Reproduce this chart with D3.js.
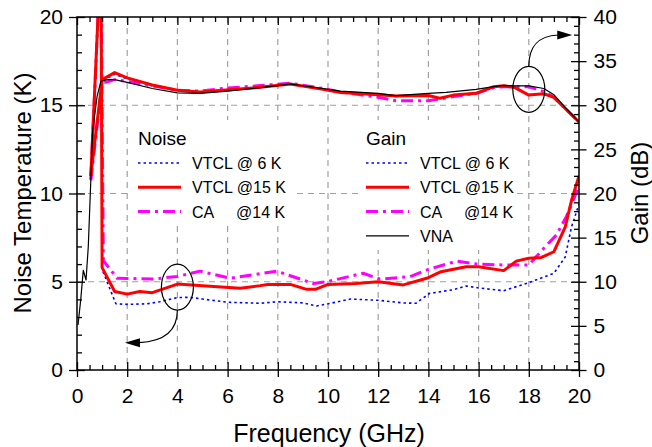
<!DOCTYPE html>
<html>
<head>
<meta charset="utf-8">
<script src="https://cdn.jsdelivr.net/npm/d3@7"></script>
<style>
body { margin: 0; background: #fff; }
svg text { font-family: "Liberation Sans", Arial, sans-serif; fill: #000; }
</style>
</head>
<body>
<div id="chart"></div>
<script>
// ---- data ----
var xTicks = [0, 2, 4, 6, 8, 10, 12, 14, 16, 18, 20];
var noiseTicks = [0, 5, 10, 15, 20];
var gainTicks = [0, 5, 10, 15, 20, 25, 30, 35, 40];

// noise temperature (K)
var noise6Freq = [0.55, 0.9, 0.96, 1.0, 1.55, 2.0, 2.8, 3.3, 4.0, 4.5, 5.0, 6.0, 7.3, 8.0, 9.0, 9.55, 10.0, 10.9, 12.0, 13.0, 13.5, 14.05, 15.0, 15.5, 16.0, 17.0, 18.0, 19.0, 19.45, 19.7, 20];
var noise6Vals = [10.8, 22, 22, 5.7, 3.75, 3.72, 3.75, 3.87, 4.1, 4.12, 4.02, 3.84, 3.78, 3.87, 3.8, 3.63, 3.75, 4.02, 3.95, 3.8, 3.78, 4.34, 4.55, 4.76, 4.65, 4.49, 4.95, 5.48, 6.4, 8.1, 9.4];

var noise15Freq = [0.55, 0.9, 0.96, 1.0, 1.5, 2.0, 2.5, 3.0, 4.0, 5.0, 6.5, 7.3, 7.6, 8.5, 9.15, 9.5, 10.0, 11.1, 12.0, 13.0, 14.0, 14.5, 15.5, 16.0, 17.0, 17.5, 18.0, 18.5, 19.0, 19.45, 19.7, 20];
var noise15Vals = [11.0, 22, 22, 5.8, 4.45, 4.3, 4.45, 4.38, 4.87, 4.78, 4.63, 4.78, 4.85, 4.85, 4.57, 4.57, 4.85, 4.9, 5.0, 4.82, 5.23, 5.57, 5.85, 5.85, 5.63, 6.17, 6.33, 6.38, 6.7, 8.1, 9.6, 11.0];

var noiseCAFreq = [0.55, 0.9, 0.96, 1.05, 1.6, 2.0, 3.0, 4.0, 4.9, 6.1, 7.95, 9.42, 9.95, 11.4, 12.07, 13.27, 14.0, 15.13, 15.92, 17.0, 18.0, 18.6, 19.1, 19.5, 20];
var noiseCAVals = [10.8, 22, 22, 6.2, 5.2, 5.19, 5.15, 5.3, 5.6, 5.2, 5.6, 4.9, 5.0, 5.48, 5.15, 5.29, 5.7, 6.17, 6.0, 5.95, 5.95, 6.9, 7.65, 8.7, 10.4];

// gain (dB)
var gainFreq = [0.55, 1.0, 1.5, 2.0, 3.0, 4.0, 4.9, 5.8, 7.2, 8.5, 9.8, 10.5, 12.0, 12.7, 14.0, 14.45, 15.0, 15.9, 16.6, 17.0, 17.45, 18.0, 18.6, 19.0, 19.5, 20];
var gain6Vals = [21.8, 32.8, 33.5, 33.0, 32.2, 31.7, 31.5, 31.7, 32.0, 32.4, 31.8, 31.4, 31.2, 31.0, 31.1, 30.8, 31.1, 31.3, 32.0, 32.2, 32.0, 31.2, 31.3, 30.9, 29.5, 28.1];
var gain15Vals = [22.0, 32.9, 33.7, 33.1, 32.3, 31.7, 31.5, 31.7, 32.0, 32.4, 31.8, 31.45, 31.2, 31.05, 31.1, 30.8, 31.15, 31.35, 32.1, 32.2, 32.0, 31.15, 31.3, 30.9, 29.5, 28.1];
var gainCAVals = [21.5, 32.5, 32.9, 32.7, 32.2, 31.7, 31.6, 31.9, 32.2, 32.5, 31.9, 31.5, 30.9, 30.5, 30.5, 30.7, 31.0, 31.35, 32.0, 32.1, 32.1, 32.1, 31.55, 30.9, 29.5, 28.1];

var vnaFreq = [0.04, 0.15, 0.25, 0.36, 0.45, 0.55, 0.62, 0.8, 0.95, 1.2, 1.5, 2.0, 3.0, 4.0, 4.9, 6.0, 7.0, 8.5, 9.8, 10.5, 12.0, 12.7, 14.0, 14.7, 15.9, 16.6, 17.0, 17.45, 18.0, 18.6, 19.0, 19.5, 20];
var vnaVals = [5.1, 8.0, 11.3, 10.2, 14.0, 21.5, 27.0, 31.0, 32.7, 32.9, 32.9, 32.6, 31.9, 31.4, 31.35, 31.6, 31.9, 32.4, 31.9, 31.6, 31.35, 31.1, 31.35, 31.45, 31.8, 32.1, 32.25, 32.2, 32.2, 31.9, 31.2, 29.6, 28.1];

var noiseLegend = ["VTCL @ 6 K", "VTCL @15 K", "CA"];
var gainLegend = ["VTCL @ 6 K", "VTCL @15 K", "CA", "VNA"];

// ---- styles ----
var BLUE = {color: "#0000ff", width: 1.6, dash: "2.5,3"};
var RED = {color: "#ff0000", width: 3, dash: null};
var MAGENTA = {color: "#ff00ff", width: 3, dash: "12,5,3,5"};
var BLACK = {color: "#000000", width: 1.2, dash: null};

var width = 652, height = 447;
var svg = d3.select("#chart").append("svg").attr("width", width).attr("height", height);

var x = d3.scaleLinear().domain([0, 20]).range([77, 579]);
var yN = d3.scaleLinear().domain([0, 20]).range([370, 17]);
var yG = d3.scaleLinear().domain([0, 40]).range([370, 17]);

function pairs(fs, vs) {
    return fs.map(function(f, i) { return [f, vs[i]]; });
}
function minorOf(lo, hi, step, majors) {
    return d3.range(lo, hi + step / 2, step).filter(function(v) {
        return majors.indexOf(Math.round(v * 100) / 100) < 0;
    });
}

// grid
var grid = svg.append("g").attr("stroke", "#a0a0a0").attr("stroke-width", 1.2).attr("stroke-dasharray", "6,5");
xTicks.slice(1, -1).forEach(function(f) {
    grid.append("line").attr("x1", x(f)).attr("x2", x(f)).attr("y1", yN(20)).attr("y2", yN(0));
});
noiseTicks.slice(1, -1).forEach(function(k) {
    grid.append("line").attr("x1", x(0)).attr("x2", x(20)).attr("y1", yN(k)).attr("y2", yN(k));
});

// legend backgrounds hide the grid
svg.append("rect").attr("x", 128).attr("y", 120).attr("width", 164).attr("height", 105).attr("fill", "#fff");
svg.append("rect").attr("x", 362).attr("y", 120).attr("width", 153).attr("height", 130).attr("fill", "#fff");

// curves
svg.append("clipPath").attr("id", "plotclip").append("rect")
    .attr("x", x(0)).attr("y", yN(20)).attr("width", x(20) - x(0)).attr("height", yN(0) - yN(20));
var plot = svg.append("g").attr("clip-path", "url(#plotclip)");

var lineN = d3.line().x(function(d) { return x(d[0]); }).y(function(d) { return yN(d[1]); });
var lineG = d3.line().x(function(d) { return x(d[0]); }).y(function(d) { return yG(d[1]); });

function drawCurve(data, gen, st) {
    plot.append("path").datum(data).attr("d", gen)
        .attr("fill", "none").attr("stroke", st.color).attr("stroke-width", st.width)
        .attr("stroke-dasharray", st.dash).attr("stroke-linejoin", "round");
}
drawCurve(pairs(noise6Freq, noise6Vals), lineN, BLUE);
drawCurve(pairs(gainFreq, gain6Vals), lineG, BLUE);
drawCurve(pairs(noiseCAFreq, noiseCAVals), lineN, MAGENTA);
drawCurve(pairs(gainFreq, gainCAVals), lineG, MAGENTA);
drawCurve(pairs(noise15Freq, noise15Vals), lineN, RED);
drawCurve(pairs(gainFreq, gain15Vals), lineG, RED);
drawCurve(pairs(vnaFreq, vnaVals), lineG, BLACK);

// axes
function styleAxis(g) {
    g.selectAll("line").attr("stroke", "#000").attr("stroke-width", 1.3);
    g.selectAll("text").attr("font-size", "21px").attr("font-family", "Liberation Sans, Arial, sans-serif");
    g.select(".domain").remove();
}
function place(axis, tx, ty) {
    svg.append("g").attr("transform", "translate(" + tx + "," + ty + ")").call(axis).call(styleAxis);
}
var xMinor = minorOf(0, 20, 0.5, xTicks);
var nMinor = minorOf(0, 20, 1, noiseTicks);
var gMinor = minorOf(0, 40, 1, gainTicks);

// bottom
place(d3.axisBottom(x).tickValues(xTicks).tickSize(7).tickPadding(11), 0, 370);
place(d3.axisTop(x).tickValues(xTicks).tickSize(8).tickFormat(""), 0, 370);
place(d3.axisTop(x).tickValues(xMinor).tickSize(5).tickFormat(""), 0, 370);
// top
place(d3.axisBottom(x).tickValues(xTicks).tickSize(8).tickFormat(""), 0, 17);
place(d3.axisBottom(x).tickValues(xMinor).tickSize(5).tickFormat(""), 0, 17);
// left
place(d3.axisLeft(yN).tickValues(noiseTicks).tickSize(8).tickPadding(6), 77, 0);
place(d3.axisRight(yN).tickValues(noiseTicks).tickSize(8).tickFormat(""), 77, 0);
place(d3.axisRight(yN).tickValues(nMinor).tickSize(5).tickFormat(""), 77, 0);
// right
place(d3.axisRight(yG).tickValues(gainTicks).tickSize(7.5).tickPadding(7), 579, 0);
place(d3.axisLeft(yG).tickValues(gainTicks).tickSize(8).tickFormat(""), 579, 0);
place(d3.axisLeft(yG).tickValues(gMinor).tickSize(5).tickFormat(""), 579, 0);

svg.append("rect").attr("x", x(0)).attr("y", yN(20)).attr("width", x(20) - x(0)).attr("height", yN(0) - yN(20))
    .attr("fill", "none").attr("stroke", "#000").attr("stroke-width", 1.5);

// axis titles
svg.append("text").attr("transform", "translate(31,193) rotate(-90)").attr("text-anchor", "middle")
    .attr("font-size", "24px").text("Noise Temperature (K)");
svg.append("text").attr("transform", "translate(648,193) rotate(-90)").attr("text-anchor", "middle")
    .attr("font-size", "24px").text("Gain (dB)");
svg.append("text").attr("x", 329).attr("y", 442).attr("text-anchor", "middle")
    .attr("font-size", "25px").text("Frequency (GHz)");

// legends
function legend(x0, title, labels, styles) {
    svg.append("text").attr("x", x0).attr("y", 145).attr("font-size", "19px").text(title);
    labels.forEach(function(lab, i) {
        var yy = 163 + i * 24.3;
        var st = styles[i];
        svg.append("line").attr("x1", x0).attr("x2", x0 + 43).attr("y1", yy).attr("y2", yy)
            .attr("stroke", st.color).attr("stroke-width", st.width).attr("stroke-dasharray", st.dash);
        svg.append("text").attr("x", x0 + 54).attr("y", yy + 6).attr("font-size", "16px").text(lab);
        if (lab === "CA") {
            svg.append("text").attr("x", x0 + 98).attr("y", yy + 6).attr("font-size", "16px").text("@14 K");
        }
    });
}
legend(138, "Noise", noiseLegend, [BLUE, RED, MAGENTA]);
legend(366, "Gain", gainLegend, [BLUE, RED, MAGENTA, BLACK]);

// annotation ellipses and arrows
function arrowHead(tipX, tipY, dir) {
    var len = 15, half = 4.5;
    svg.append("path")
        .attr("d", "M" + tipX + "," + tipY + "L" + (tipX - dir * len) + "," + (tipY - half) +
                   "L" + (tipX - dir * len) + "," + (tipY + half) + "Z")
        .attr("fill", "#000");
}
var e1x = x(4), e1y = yN(4.7);
svg.append("ellipse").attr("cx", e1x).attr("cy", e1y).attr("rx", 16).attr("ry", 23)
    .attr("fill", "none").attr("stroke", "#000").attr("stroke-width", 1.2);
var t1x = x(1.91), t1y = yN(1.55);
svg.append("path")
    .attr("d", "M" + e1x + "," + (e1y + 23) + "C" + e1x + "," + (e1y + 45) + " " + (e1x - 15) + "," + (t1y - 1) + " " + (t1x + 14) + "," + t1y)
    .attr("fill", "none").attr("stroke", "#000").attr("stroke-width", 1.2);
arrowHead(t1x, t1y, -1);

var e2x = x(18), e2y = yG(31.8);
svg.append("ellipse").attr("cx", e2x).attr("cy", e2y).attr("rx", 16).attr("ry", 23)
    .attr("fill", "none").attr("stroke", "#000").attr("stroke-width", 1.2);
var t2x = x(19.73), t2y = yG(37.96);
svg.append("path")
    .attr("d", "M" + e2x + "," + (e2y - 23) + "C" + e2x + "," + (e2y - 42) + " " + (e2x + 8) + "," + (t2y + 1) + " " + (t2x - 14) + "," + t2y)
    .attr("fill", "none").attr("stroke", "#000").attr("stroke-width", 1.2);
arrowHead(t2x, t2y, 1);
</script>
</body>
</html>
